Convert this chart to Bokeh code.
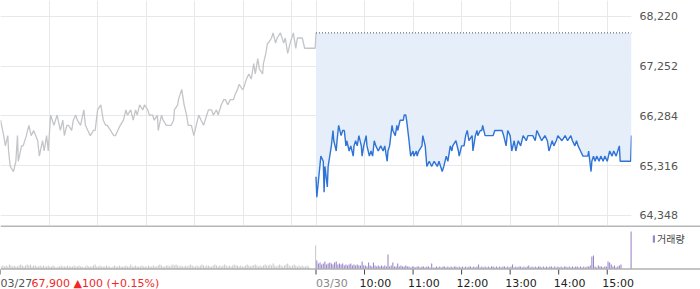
from bokeh.plotting import figure
from bokeh.layouts import column
from bokeh.core.properties import value
from bokeh.models import (FixedTicker, NumeralTickFormatter, Span, Legend,
                          LegendItem, Range1d, Grid)
from bokeh.embed import file_html
from bokeh.resources import INLINE

# ---------------- data ----------------
prev_date = "03/27"
today_date = "03/30"
quote_text = "67,900 \u25b2100 (+0.15%)"
vol_label = "거래량"

# previous session (minutes after 09:00, price)
prev_min = [0, 4, 6, 9, 10, 12, 16, 19, 21, 22,
            26, 28, 32, 35, 38, 41, 46, 48, 52, 54,
            57, 59, 62, 66, 68, 70, 74, 77, 79, 82,
            84, 88, 90, 93, 95, 99, 103, 105, 108, 111,
            115, 117, 120, 124, 127, 130, 132, 136, 140, 142,
            145, 148, 152, 155, 157, 161, 164, 167, 169, 172,
            176, 178, 182, 184, 188, 190, 194, 195, 199, 201,
            205, 208, 211, 214, 215, 219, 220, 224, 226, 227,
            230, 232, 236, 239, 242, 245, 248, 251, 255, 257,
            261, 263, 267, 269, 273, 276, 278, 281, 284, 288,
            290, 293, 295, 299, 300, 304, 307, 310, 313, 315,
            318, 320, 324, 325, 328, 330, 331, 335, 337, 340,
            342, 346, 350, 352, 355, 358, 362, 365, 367, 370,
            373, 376, 378, 389, 390]
prev_px = [66200, 65900, 65700, 65900, 65600, 65300, 65200, 65400, 65900, 65400,
           65700, 65700, 65900, 66100, 65900, 66000, 65800, 65500, 65800, 65600,
           65900, 65600, 66300, 66100, 66200, 66300, 66000, 66200, 65900, 66100,
           66100, 66000, 66200, 66300, 66200, 66100, 66400, 66100, 66000, 65900,
           66000, 66000, 66400, 66500, 66200, 66100, 66100, 66000, 65900, 65900,
           66000, 66100, 66200, 66400, 66300, 66400, 66200, 66400, 66300, 66500,
           66400, 66500, 66400, 66300, 66300, 66200, 66300, 66000, 66300, 66200,
           66100, 66100, 66100, 66200, 66400, 66500, 66600, 66800, 66600, 66500,
           66300, 66100, 66100, 65900, 66100, 66300, 66200, 66100, 66300, 66400,
           66400, 66300, 66400, 66300, 66500, 66600, 66600, 66500, 66600, 66600,
           66700, 66800, 66900, 66800, 66800, 67000, 67100, 67000, 67300, 67100,
           67400, 67200, 67100, 67300, 67500, 67700, 67700, 67800, 67900, 67700,
           67800, 67900, 67700, 67800, 67500, 67700, 67900, 67600, 67800, 67800,
           67800, 67600, 67600, 67600, 67900]

# current session (minutes after 09:00, price)
today_min = [0, 1, 6, 9, 10, 11, 14, 15, 16, 19,
             21, 22, 25, 26, 28, 31, 33, 35, 37, 38,
             41, 43, 46, 47, 49, 51, 53, 56, 57, 59,
             62, 63, 66, 68, 70, 72, 74, 77, 80, 83,
             85, 88, 89, 91, 94, 95, 98, 100, 101, 104,
             108, 109, 111, 112, 115, 117, 120, 121, 124, 125,
             127, 131, 132, 135, 137, 140, 143, 146, 150, 152,
             156, 158, 161, 163, 166, 168, 169, 173, 176, 177,
             180, 183, 185, 187, 189, 193, 194, 197, 199, 200,
             203, 205, 206, 209, 213, 219, 221, 225, 230, 232,
             235, 237, 240, 242, 245, 247, 250, 253, 256, 260,
             262, 268, 271, 273, 276, 279, 283, 286, 288, 292,
             294, 297, 299, 304, 308, 311, 315, 317, 320, 322,
             324, 327, 330, 336, 337, 340, 341, 343, 345, 347,
             350, 352, 355, 357, 360, 363, 366, 368, 371, 375,
             376, 389, 390]
today_px = [65100, 64700, 65500, 65400, 64800, 65300, 64900, 65300, 65400, 65700,
            66000, 65800, 65600, 65800, 66100, 65900, 66000, 66000, 65700, 65800,
            65600, 65700, 65500, 65700, 65800, 65700, 65900, 65700, 65500, 65700,
            65900, 65700, 65500, 65600, 65500, 65800, 65700, 65600, 65700, 65600,
            65700, 65400, 65600, 65700, 66100, 66000, 65900, 66100, 66000, 66200,
            66200, 66300, 66300, 66200, 65800, 65500, 65600, 65500, 65600, 65500,
            65600, 65700, 65900, 65700, 65300, 65400, 65300, 65400, 65300, 65400,
            65200, 65300, 65500, 65400, 65700, 65600, 65700, 65800, 65600, 65500,
            65700, 65700, 65900, 66000, 65800, 65900, 65600, 65900, 66000, 65900,
            66000, 66000, 66100, 65900, 65900, 65900, 66000, 66000, 66000, 65900,
            65700, 66000, 65900, 65600, 65800, 65600, 65800, 65700, 65900, 65800,
            65900, 65900, 65800, 66000, 65900, 65800, 65900, 65800, 65600, 65800,
            65700, 65800, 65900, 65800, 65900, 65800, 65900, 65800, 65700, 65800,
            65700, 65600, 65500, 65500, 65600, 65200, 65400, 65500, 65400, 65500,
            65400, 65500, 65400, 65500, 65400, 65600, 65500, 65600, 65500, 65700,
            65400, 65400, 65900]

# volume in 2-minute bins (thousand shares)
vol_bin = 2
prev_vol = [20, 30, 20, 30, 20, 40, 30, 20, 30, 20, 20, 30, 40, 30, 20,
            30, 40, 30, 40, 20, 30, 30, 20, 20, 30, 20, 30, 20, 20, 30,
            20, 20, 30, 20, 10, 20, 20, 30, 20, 20, 20, 30, 20, 20, 20,
            30, 20, 20, 30, 20, 20, 10, 20, 30, 20, 20, 20, 30, 40, 20,
            20, 30, 20, 20, 20, 30, 20, 20, 10, 20, 30, 20, 20, 30, 20,
            20, 20, 30, 20, 20, 40, 20, 20, 30, 20, 20, 20, 30, 20, 20,
            20, 30, 20, 20, 30, 20, 20, 30, 40, 30, 20, 20, 30, 30, 20,
            30, 40, 30, 40, 30, 20, 30, 20, 20, 30, 20, 30, 40, 30, 20,
            20, 30, 20, 30, 40, 30, 20, 30, 30, 20, 20, 30, 40, 30, 20,
            30, 20, 30, 40, 30, 20, 30, 20, 30, 40, 30, 30, 20, 30, 20,
            20, 30, 40, 30, 20, 30, 30, 40, 30, 20, 30, 20, 30, 40, 30,
            30, 40, 30, 50, 30, 20, 30, 40, 30, 20, 30, 40, 50, 30, 20,
            30, 40, 30, 20, 30, 20, 30, 20, 20, 30, 20, 0, 0, 0, 0]
today_vol = [80, 50, 60, 40, 50, 70, 40, 50, 60, 50, 40, 60, 70, 40, 50,
             40, 50, 30, 40, 30, 40, 50, 30, 40, 30, 40, 30, 30, 70, 30,
             30, 20, 60, 30, 20, 60, 30, 20, 30, 20, 30, 20, 30, 20, 140,
             20, 30, 60, 20, 20, 50, 20, 30, 20, 20, 30, 20, 20, 10, 20,
             20, 10, 20, 20, 10, 20, 20, 10, 20, 20, 10, 50, 10, 10, 20,
             10, 20, 10, 20, 20, 10, 20, 10, 20, 10, 20, 20, 10, 20, 10,
             20, 10, 20, 10, 20, 20, 10, 20, 10, 20, 40, 10, 20, 10, 20,
             10, 20, 10, 20, 20, 10, 20, 10, 20, 10, 20, 20, 10, 20, 10,
             20, 40, 10, 20, 10, 20, 20, 10, 20, 10, 20, 30, 10, 20, 10,
             20, 10, 20, 20, 10, 20, 10, 20, 10, 20, 20, 10, 20, 10, 20,
             10, 20, 10, 20, 20, 10, 20, 10, 20, 10, 20, 20, 10, 20, 10,
             20, 10, 20, 20, 30, 120, 130, 20, 10, 30, 20, 20, 10, 20, 20,
             70, 60, 40, 20, 30, 10, 20, 30, 40, 0, 0, 0, 0, 0, 0]
prev_close_vol = 230
today_close_vol = 370

price_ticks = [64348, 65316, 66284, 67252, 68220]
hour_ticks = [10, 11, 12, 13, 14, 15]
hour_labels = ["10:00", "11:00", "12:00", "13:00", "14:00", "15:00"]

# ---------------- layout constants ----------------
DAY = 390                 # minutes from 09:00 to 15:30
FONT = "DejaVu Sans"
FRAME_W = 631
TOTAL_W = 700
GRID_C = "#e8e8e8"
BLUE = "#2e73d6"
GREY_LINE = "#c3c5c9"
PURPLE = "#9884c8"
GREY_BAR = "#c9c9c9"

prev_close = prev_px[-1]
prev_x = prev_min
today_x = [DAY + m for m in today_min]

# ---------------- price panel ----------------
p1 = figure(frame_width=FRAME_W, frame_height=225,
            x_range=Range1d(0, 2 * DAY), y_range=Range1d(64150, 68530),
            x_axis_location=None, y_axis_location="right",
            output_backend="svg", toolbar_location=None,
            min_border_left=0, min_border_right=TOTAL_W - FRAME_W,
            min_border_top=0, min_border_bottom=0)
p1.outline_line_color = None
p1.grid.visible = False
grid_x = [0] + [(h - 9) * 60 for h in hour_ticks] + [DAY] + [DAY + (h - 9) * 60 for h in hour_ticks]
p1.add_layout(Grid(dimension=0, ticker=FixedTicker(ticks=sorted(grid_x)),
                   grid_line_color=GRID_C, grid_line_width=1))
p1.add_layout(Grid(dimension=1, ticker=FixedTicker(ticks=price_ticks),
                   grid_line_color=GRID_C, grid_line_width=1))

ya = p1.yaxis[0]
ya.ticker = FixedTicker(ticks=price_ticks)
ya.formatter = NumeralTickFormatter(format="0,0")
ya.axis_line_color = None
ya.major_tick_line_color = None
ya.minor_tick_line_color = None
ya.major_tick_out = 0
ya.major_tick_in = 0
ya.major_label_standoff = 8
ya.major_label_text_font = FONT
ya.major_label_text_font_size = "11px"
ya.major_label_text_color = "#555555"

p1.varea(x=today_x, y1=today_px, y2=prev_close, fill_color="#e6eef9")
p1.line(prev_x, prev_px, line_color=GREY_LINE, line_width=1.3)
p1.line([DAY, 2 * DAY], [prev_close, prev_close], line_color="#555555",
        line_width=1, line_dash="1 2")
p1.line(today_x, today_px, line_color=BLUE, line_width=1.4)

# ---------------- volume panel (with time-axis row) ----------------
PX = 10                     # volume units per pixel
VOL_H = 43                  # bar area height in px
AXIS_H = 21                 # tick + label row height in px
p2 = figure(frame_width=TOTAL_W, frame_height=VOL_H + AXIS_H,
            x_range=Range1d(0, 2 * DAY * TOTAL_W / FRAME_W),
            y_range=Range1d(-AXIS_H * PX, VOL_H * PX),
            x_axis_location=None, y_axis_location=None,
            output_backend="svg", toolbar_location=None,
            min_border_left=0, min_border_right=0,
            min_border_top=0, min_border_bottom=0)
p2.outline_line_color = None
p2.grid.visible = False

prev_vx = [vol_bin * i + vol_bin / 2 for i in range(len(prev_vol))] + [DAY - 0.5]
today_vx = [DAY + vol_bin * i + vol_bin / 2 for i in range(len(today_vol))] + [2 * DAY - 0.5]
p2.vbar(x=prev_vx, top=prev_vol + [prev_close_vol], width=1.3,
        fill_color=GREY_BAR, line_color=None)
vb = p2.vbar(x=today_vx, top=today_vol + [today_close_vol], width=1.3,
             fill_color=PURPLE, line_color=None)

# separator line on top of the volume panel and the time axis line
p2.add_layout(Span(location=VOL_H * PX - 0.5 * PX, dimension="width",
                   line_color="#6f6f6f", line_width=1))
p2.add_layout(Span(location=-0.5 * PX, dimension="width",
                   line_color="#8a8a8a", line_width=1))

tick_x = [0, DAY] + [DAY + (h - 9) * 60 for h in hour_ticks]
p2.segment(x0=tick_x, y0=[-PX] * len(tick_x), x1=tick_x, y1=[-6 * PX] * len(tick_x),
           line_color="#444444", line_width=1)

lab_y = -15 * PX
time_x = [DAY + (h - 9) * 60 for h in hour_ticks]
p2.text(x=time_x, y=[lab_y] * len(time_x), text=hour_labels, x_offset=-5,
        text_font=value(FONT), text_font_size="11px", text_color="#222222",
        text_align="left", text_baseline="middle")
p2.text(x=[0, DAY], y=[lab_y, lab_y], text=[prev_date, today_date],
        text_font=value(FONT), text_font_size="11px",
        text_color=["#555555", "#888888"], text_align="left", text_baseline="middle")
p2.text(x=[0], y=[lab_y], text=[quote_text], x_offset=31,
        text_font=value(FONT), text_font_size="11px", text_color="#f02828",
        text_align="left", text_baseline="middle")

legend = Legend(items=[LegendItem(label=vol_label, renderers=[vb])],
                location=(652, 43), orientation="vertical",
                glyph_width=3, glyph_height=9, label_standoff=2,
                label_height=9, label_width=20,
                padding=0, margin=0, spacing=0,
                border_line_color=None, background_fill_alpha=0,
                label_text_font="Noto Sans CJK KR", label_text_font_size="10px",
                label_text_color="#444444")
p2.add_layout(legend)

layout = column(p1, p2)
open("out.html", "w").write(file_html(layout, INLINE))
